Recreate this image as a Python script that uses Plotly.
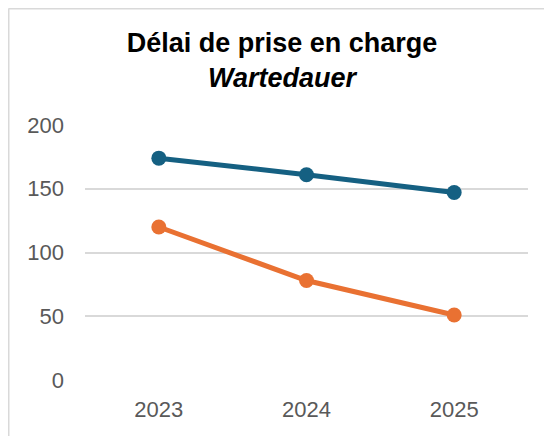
import plotly.graph_objects as go

years = ["2023", "2024", "2025"]
series_a = [174, 161, 147]
series_b = [120, 78, 51]
y_ticks = [0, 50, 100, 150, 200]

BLUE = "#156082"
ORANGE = "#E97132"

fig = go.Figure()
fig.add_trace(go.Scatter(x=years, y=series_a, mode="lines+markers",
                         line=dict(color=BLUE, width=5),
                         marker=dict(color=BLUE, size=15), showlegend=False))
fig.add_trace(go.Scatter(x=years, y=series_b, mode="lines+markers",
                         line=dict(color=ORANGE, width=5),
                         marker=dict(color=ORANGE, size=15), showlegend=False))

# page has an 8px body margin; figure coordinates = page - 8
W, H = 544, 428
L, R, T, B = 77, 24, 117, 56
pw, ph = W - L - R, H - T - B

fig.update_layout(
    width=W, height=H,
    margin=dict(l=L, r=R, t=T, b=B),
    paper_bgcolor="white", plot_bgcolor="white",
    font=dict(family="Liberation Sans, Arial, sans-serif"),
    title=dict(text="<b>Délai de prise en charge</b><br><b><i>Wartedauer</i></b>",
               x=274 / W, xanchor="center", y=1 - 44 / H, yanchor="middle",
               font=dict(size=27, color="black")),
    xaxis=dict(type="category", range=[-0.5, 2.5], showgrid=False, zeroline=False,
               showline=False, ticks="", tickfont=dict(size=22, color="#595959"),
               ticklabelstandoff=14),
    yaxis=dict(range=[0, 200], tickvals=y_ticks, showgrid=True, gridcolor="#d9d9d9",
               gridwidth=1.5, zeroline=False, showline=False, ticks="",
               tickfont=dict(size=22, color="#595959"), ticklabelstandoff=20),
)

# outer chart border (left and top visible)
x_left = (0.5 - L) / pw
y_top = (H - B - 0.5) / ph
fig.add_shape(type="line", xref="paper", yref="paper", x0=x_left, x1=x_left,
              y0=-1, y1=y_top, line=dict(color="#d9d9d9", width=2))
fig.add_shape(type="line", xref="paper", yref="paper", x0=x_left, x1=2,
              y0=y_top, y1=y_top, line=dict(color="#d9d9d9", width=2))

fig.write_html("out.html")
